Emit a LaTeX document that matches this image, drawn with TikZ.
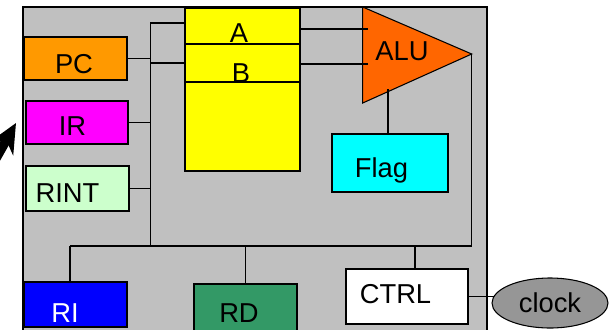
\documentclass[tikz,border=0pt]{standalone}
\usepackage{fontspec}
\setmainfont{Liberation Sans}
\usetikzlibrary{arrows.meta, calc, fit, shapes.geometric}
\definecolor{cframe}{HTML}{C0C0C0}
\definecolor{cpc}{HTML}{FF9900}
\definecolor{cir}{HTML}{FF00FF}
\definecolor{crint}{HTML}{CCFFCC}
\definecolor{cri}{HTML}{0000FF}
\definecolor{crd}{HTML}{339966}
\definecolor{creg}{HTML}{FFFF00}
\definecolor{calu}{HTML}{FF6600}
\definecolor{cflag}{HTML}{00FFFF}
\definecolor{cclock}{HTML}{969696}
\tikzset{
  every picture/.style={line width=0.8pt},
  box/.style={draw=black, fill=#1, inner sep=0pt, outer sep=0pt},
  box/.default=white,
  wire/.style={draw=black, line width=0.8pt},
  lbl/.style={anchor=base, inner sep=0pt, font=\fontsize{20.5}{24}\selectfont},
  bigarrow/.style={-{Stealth[length=22pt, width=20pt]}, line width=7pt},
}

\begin{document}
\begin{tikzpicture}[x=0.75pt, y=-0.75pt]
  \useasboundingbox (0,0) rectangle (610,329);
  \clip (0,0) rectangle (610,329);
  % cpu frame
  \node[box=cframe, fit={(23,7) (487,340)}, line width=1.2pt] (cpu) {};
  % registers on the left
  \node[box=cpc, fit={(24,37) (127,80)}] (pc) {};
  \node[box=cir, fit={(26,101) (128,144)}] (ir) {};
  \node[box=crint, fit={(26,166) (129,211)}] (rint) {};
  \node[box=cri, fit={(24,282) (127,327)}] (ri) {};
  \node[box=crd, fit={(194,284) (297,340)}] (rd) {};
  % register file
  \node[box=creg, fit={(185,8) (300,44)}] (rega) {};
  \node[box=creg, fit={(185,44) (300,82)}] (regb) {};
  \node[box=creg, fit={(185,82) (300,171)}] (regs) {};
  % alu and flags
  \coordinate (alu-nw) at (362.7,7);
  \coordinate (alu-sw) at (362.7,103);
  \coordinate (alu-out) at (471.7,54);
  \filldraw[fill=calu] (alu-nw) -- (alu-out) -- (alu-sw) -- cycle;
  \node[box=cflag, fit={(332,134) (448,192)}] (flag) {};
  \node[box, fit={(346,269) (468,324)}] (ctrl) {};
  % bus lines
  \coordinate (bus-top) at (150.7,23);
  \coordinate (bus-bot) at (150.7,246);
  \coordinate (bus-w) at (70,246);
  \coordinate (bus-e) at (471.7,246);
  \coordinate (ctrl-in) at (415,246);
  \coordinate (alu-a) at (368,29);
  \coordinate (alu-b) at (368,64);
  \coordinate (alu-flag) at (388,89);
  \coordinate (clock-c) at (550,303);
  \draw[wire] (rega.west |- bus-top) -- (bus-top) -- (bus-bot);
  \draw[wire] (bus-w) -- (bus-e) -- (alu-out);
  \draw[wire] (pc.east) -- (pc.east -| bus-top);
  \draw[wire] (ir.east) -- (ir.east -| bus-top);
  \draw[wire] (rint.east) -- (rint.east -| bus-top);
  \draw[wire] (regb.west) -- (regb.west -| bus-top);
  \draw[wire] (bus-w) -- (bus-w |- ri.north);
  \draw[wire] (rd.north |- bus-w) -- (rd.north);
  \draw[wire] (ctrl-in) -- (ctrl-in |- ctrl.north);
  \draw[wire] (alu-a -| rega.east) -- (alu-a);
  \draw[wire] (alu-b -| regb.east) -- (alu-b);
  \draw[wire] (alu-flag) -- (alu-flag |- flag.north);
  \draw[wire] (ctrl.east) -- (ctrl.east -| clock-c);
  \node[ellipse, draw=black, fill=cclock, inner sep=0pt, minimum width=87pt, minimum height=37.5pt,
      font=\fontsize{20.5}{24}\selectfont] (clock) at (clock-c) {clock};
  % texts
  \node[lbl] (pc-t) at (74,73) {PC};
  \node[lbl] (ir-t) at (72.5,135) {IR};
  \node[lbl] (rint-t) at (67.5,202) {RINT};
  \node[lbl, text=white] (ri-t) at (65,322) {RI};
  \node[lbl] (rd-t) at (239,322) {RD};
  \node[lbl] (rega-t) at (239,42) {A};
  \node[lbl] (regb-t) at (241,82) {B};
  \node[lbl] (alu-t) at (402,60) {ALU};
  \node[lbl] (flag-t) at (381.5,177) {Flag};
  \node[lbl] (ctrl-t) at (395.5,303) {CTRL};
  % pointer arrow
  \coordinate (arr-tail) at (-14,176);
  \coordinate (arr-tip) at (16,123);
  \draw[bigarrow] (arr-tail) -- (arr-tip);
\end{tikzpicture}
\end{document}
